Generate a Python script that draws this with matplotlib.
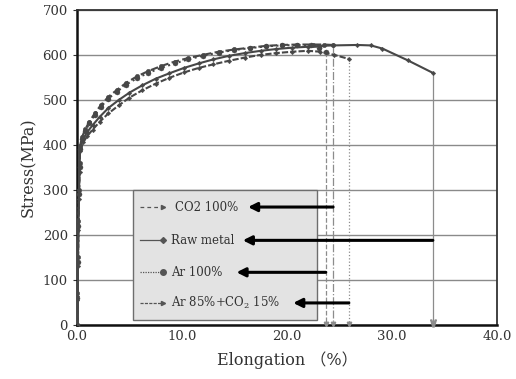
import matplotlib.pyplot as plt
from matplotlib.lines import Line2D
from matplotlib.patches import Rectangle

# elongation (%) and stress (MPa)
co2_x = [0.0, 0.05, 0.1, 0.15, 0.2, 0.25, 0.3, 0.5, 0.8, 1.2, 1.7, 2.3, 3.0, 3.8, 4.7,
         5.7, 6.8, 8.0, 9.3, 10.6, 12.0, 13.5, 15.0, 16.5, 18.0, 19.5, 21.0, 22.5, 23.5, 24.4]
co2_y = [0, 70, 150, 230, 300, 360, 398, 418, 435, 452, 470, 489, 507, 522, 538,
         552, 564, 575, 585, 593, 600, 607, 612, 616, 620, 622, 623, 623, 623, 622]

raw_x = [0.0, 0.05, 0.1, 0.15, 0.2, 0.25, 0.3, 0.6, 1.0, 1.5, 2.2, 3.0, 4.0, 5.0, 6.2,
         7.5, 8.8, 10.2, 11.6, 13.0, 14.5, 16.0, 17.5, 19.0, 20.5, 22.0, 23.2, 24.4,
         26.7, 28.0, 29.1, 31.5, 33.9]
raw_y = [0, 65, 140, 220, 290, 350, 394, 414, 429, 444, 463, 482, 500, 516, 532,
         547, 559, 571, 581, 590, 598, 604, 609, 613, 616, 618, 620, 621,
         622, 621, 614, 588, 560]

ar_x = [0.0, 0.05, 0.1, 0.15, 0.2, 0.25, 0.3, 0.5, 0.8, 1.2, 1.7, 2.3, 3.0, 3.8, 4.7,
        5.7, 6.8, 8.0, 9.3, 10.6, 12.0, 13.5, 15.0, 16.5, 18.0, 19.5, 21.0, 22.3, 23.1, 23.7]
ar_y = [0, 60, 140, 220, 290, 350, 392, 414, 431, 448, 466, 485, 503, 518, 534,
        548, 560, 571, 581, 590, 598, 605, 611, 615, 619, 621, 622, 621, 616, 607]

mix_x = [0.0, 0.05, 0.1, 0.15, 0.2, 0.25, 0.3, 0.6, 1.0, 1.5, 2.2, 3.0, 4.0, 5.0, 6.2,
         7.5, 8.8, 10.2, 11.6, 13.0, 14.5, 16.0, 17.5, 19.0, 20.5, 22.0, 23.2, 24.5, 25.9]
mix_y = [0, 55, 130, 210, 280, 340, 386, 406, 420, 434, 452, 470, 488, 505, 521,
         536, 549, 561, 571, 579, 587, 594, 600, 604, 607, 609, 607, 600, 591]

labels = ["CO2 100%", "Raw metal", "Ar 100%", r"Ar 85%+CO$_2$ 15%"]
series = [(co2_x, co2_y), (raw_x, raw_y), (ar_x, ar_y), (mix_x, mix_y)]
line_styles = ["--", "-", ":", (0, (3, 1))]
markers = ["o", "D", "o", "D"]
marker_sizes = [3.2, 2.3, 3.6, 2.3]
drop_styles = ["-.", "-", "--", ":"]

# legend row heights (MPa) and where each black arrow ends (elongation)
row_y = [262, 188, 117, 49]
arrow_tip_x = [16.3, 15.8, 15.2, 20.6]

plt.rcParams['font.family'] = ['DejaVu Serif', 'Noto Sans CJK JP']
plt.rcParams['mathtext.fontset'] = 'dejavuserif'

fig = plt.figure(figsize=(5.16, 3.79), dpi=100)
ax = fig.add_axes([0.149, 0.1425, 0.814, 0.8315])

curve_color = "#474747"
grey = "#8c8c8c"

for (x, y), ls, mk, ms in zip(series, line_styles, markers, marker_sizes):
    ax.plot(x, y, linestyle=ls, color=curve_color, lw=1.5, marker=mk,
            markersize=ms, markeredgewidth=0.3, zorder=3)

# vertical drop lines from the end of each curve
for i, ((x, y), ls) in enumerate(zip(series, drop_styles)):
    ax.plot([x[-1], x[-1]], [y[-1], 0], linestyle=ls, color=grey, lw=0.9, zorder=2)
    if i == 1:
        ax.plot(x[-1], 5, marker=r'$\vee$', color=grey, markersize=5, clip_on=False, zorder=4)
    else:
        ax.plot(x[-1], 3, marker='v', color=grey, markersize=3.2, clip_on=False, zorder=4)

# legend box
ax.add_patch(Rectangle((5.3, 11), 17.6, 288, facecolor="#e3e3e3", edgecolor="#6e6e6e",
                       lw=1.0, zorder=5))

sample_markers = [">", "D", "o", ">"]
sample_ls = [(0, (3, 2.5)), "-", (0, (1, 1)), (0, (2.5, 1))]
for i, (lab, yy) in enumerate(zip(labels, row_y)):
    tx = 9.3 if i == 0 else 8.95
    ax.add_line(Line2D([6.0, 8.2], [yy, yy], linestyle=sample_ls[i], color="#555555",
                       lw=0.9, zorder=6))
    ax.plot(8.2, yy, marker=sample_markers[i], color="#555555",
            markersize=3.0 if sample_markers[i] != "o" else 4, zorder=6)
    ax.text(tx, yy, lab, fontsize=8.5, color="#333333", va="center", ha="left", zorder=6)

# black arrows from drop lines to legend labels
for (x, y), yy, tip in zip(series, row_y, arrow_tip_x):
    ax.annotate("", xy=(tip, yy), xytext=(x[-1], yy),
                arrowprops=dict(arrowstyle="-|>", color="black", lw=2.2,
                                mutation_scale=13, shrinkA=0, shrinkB=0),
                zorder=7)

ax.set_xlim(0, 40)
ax.set_ylim(0, 700)
ax.set_xticks([0, 10, 20, 30, 40])
ax.set_xticklabels([f"{v:.1f}" for v in [0, 10, 20, 30, 40]])
ax.set_yticks(range(0, 701, 100))
ax.yaxis.grid(True, color="#8a8a8a", lw=1.0)
ax.set_axisbelow(True)
ax.tick_params(labelsize=9.5, colors="#333333", length=3, width=0.8)
ax.tick_params(axis="x", length=0)

for side in ["left", "bottom"]:
    ax.spines[side].set_linewidth(1.8)
    ax.spines[side].set_color("#111111")
for side in ["top", "right"]:
    ax.spines[side].set_linewidth(1.3)
    ax.spines[side].set_color("#333333")

ax.set_xlabel("Elongation （%）", fontsize=11.5, color="#333333", labelpad=6)
ax.set_ylabel("Stress(MPa)", fontsize=11.5, color="#333333", labelpad=4)

fig.savefig("out.png", dpi=100)
